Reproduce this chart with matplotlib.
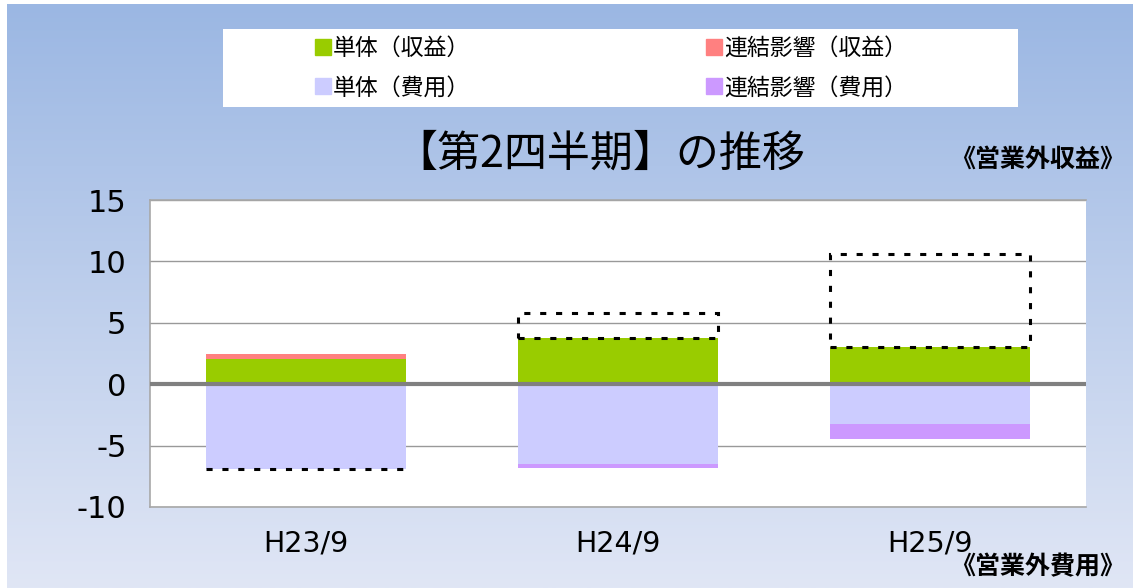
import numpy as np
import matplotlib
matplotlib.use("Agg")
import matplotlib.pyplot as plt
from matplotlib.patches import Patch, Rectangle

plt.rcParams['font.family'] = ['Noto Sans CJK JP', 'DejaVu Sans']

# データ
periods = ['H23/9', 'H24/9', 'H25/9']
single_rev = [2.05, 3.75, 3.05]      # 単体（収益）
consol_rev = [0.4, 0.0, 0.0]         # 連結影響（収益）
single_exp = [-6.9, -6.5, -3.25]     # 単体（費用）
consol_exp = [0.0, -0.3, -1.2]       # 連結影響（費用）
box_bottom = [-6.9, 3.75, 3.05]      # 点線枠
box_top = [-6.9, 5.8, 10.6]
yticks = [15, 10, 5, 0, -5, -10]

c_single_rev = '#99CC00'
c_consol_rev = '#FF8080'
c_single_exp = '#CCCCFF'
c_consol_exp = '#CC99FF'

fig = plt.figure(figsize=(11.33, 5.88), dpi=100)
fig.patch.set_facecolor('white')

# 背景のグラデーション
bg = fig.add_axes([7 / 1133, 0, 1 - 7 / 1133, 1 - 4 / 588])
top_c = np.array([155, 183, 227]) / 255
bot_c = np.array([224, 230, 245]) / 255
t = np.linspace(0, 1, 256)[:, None]
grad = (top_c * (1 - t) + bot_c * t)[:, None, :]
bg.imshow(grad, aspect='auto', extent=[0, 1, 0, 1])
bg.axis('off')
bg.set_zorder(-2)

ax = fig.add_axes([150 / 1133, 1 - 507 / 588, 936 / 1133, 307 / 588])
ax.set_facecolor('white')

x = np.arange(len(periods))
w = 0.64
ax.bar(x, single_rev, w, color=c_single_rev, zorder=2)
ax.bar(x, consol_rev, w, bottom=single_rev, color=c_consol_rev, zorder=2)
ax.bar(x, single_exp, w, color=c_single_exp, zorder=2)
ax.bar(x, consol_exp, w, bottom=single_exp, color=c_consol_exp, zorder=2)

# 点線の枠
dash = (0, (2, 3.2))
for xi, b, tp in zip(x, box_bottom, box_top):
    if tp - b == 0:
        ax.hlines(b, xi - w / 2, xi + w / 2, colors='black', lw=2.2,
                  linestyles=dash, zorder=3)
    else:
        ax.bar(xi, tp - b, w, bottom=b, fill=False, edgecolor='black',
               lw=2.2, linestyle=dash, zorder=3)

ax.axhline(0, color='#808080', lw=3, zorder=4)

ax.set_xlim(-0.5, 2.5)
ax.set_ylim(-10, 15)
ax.set_yticks(yticks)
ax.set_yticklabels([str(v) for v in yticks], family='DejaVu Sans', fontsize=22)
ax.set_xticks(x)
ax.set_xticklabels(periods, family='DejaVu Sans', fontsize=20.5)
ax.tick_params(axis='y', length=0, pad=17)
ax.tick_params(axis='x', length=0, pad=16)
ax.grid(axis='y', color='#999999', lw=1, zorder=1)
ax.set_axisbelow(True)
for side in ['top', 'bottom', 'left']:
    ax.spines[side].set_color('#A8A8A8')
    ax.spines[side].set_linewidth(1.2)
ax.spines['right'].set_visible(False)

# 凡例
fig.patches.append(Rectangle((223 / 1133, 1 - 107 / 588), 795 / 1133, 78 / 588,
                             transform=fig.transFigure, facecolor='white',
                             edgecolor='none', zorder=0))
handles = [Patch(color=c_single_rev), Patch(color=c_single_exp),
           Patch(color=c_consol_rev), Patch(color=c_consol_exp)]
labels = ['単体（収益）', '単体（費用）', '連結影響（収益）', '連結影響（費用）']
fig.legend(handles, labels, ncol=2, frameon=False, loc='center',
           bbox_to_anchor=(611 / 1133, 1 - 68 / 588), fontsize=16.5,
           handlelength=0.7, handleheight=0.7, handletextpad=0.1,
           columnspacing=10.3, labelspacing=0.72)

fig.text(600 / 1133, 1 - 155 / 588, '【第2四半期】の推移', ha='center', va='center',
         fontsize=31)
fig.text(950 / 1133, 1 - 160 / 588, '《営業外収益》', ha='left', va='center',
         fontsize=18, fontweight='bold')
fig.text(950 / 1133, 1 - 567 / 588, '《営業外費用》', ha='left', va='center',
         fontsize=18, fontweight='bold')

fig.savefig('out.png', dpi=100)
